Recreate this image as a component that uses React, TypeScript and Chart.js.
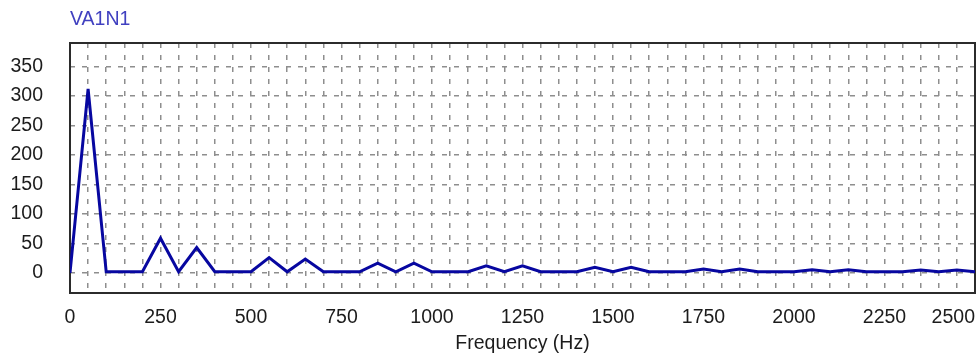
import { useEffect, useRef } from 'react';
import { Chart, registerables } from 'chart.js';

Chart.register(...registerables);

// Harmonic spectrum of signal VA1N1
const TITLE = 'VA1N1';
const X_TITLE = 'Frequency (Hz)';

// Sample frequencies (Hz)
const FREQS = [
  0, 50, 100, 150, 200, 250, 300, 350, 400, 450, 500,
  550, 600, 650, 700, 750, 800, 850, 900, 950, 1000,
  1050, 1100, 1150, 1200, 1250, 1300, 1350, 1400, 1450, 1500,
  1550, 1600, 1650, 1700, 1750, 1800, 1850, 1900, 1950, 2000,
  2050, 2100, 2150, 2200, 2250, 2300, 2350, 2400, 2450, 2500,
];

// Amplitude at each frequency
const AMPLITUDES = [
  0, 312, 2, 2, 2, 59, 2, 43, 2, 2, 2,
  26, 2, 23.5, 2, 2, 2, 16.5, 2, 16.5, 2,
  2, 2, 12, 2, 12, 2, 2, 2, 9.5, 2,
  9.5, 2, 2, 2, 6.5, 2, 6.5, 2, 2, 2,
  5.5, 2, 5.5, 2, 2, 2, 5, 2, 5, 2,
];

const X_LABELS = [0, 250, 500, 750, 1000, 1250, 1500, 1750, 2000, 2250, 2500];
const Y_LABELS = [0, 50, 100, 150, 200, 250, 300, 350];
const Y_MIN = -34;
const Y_MAX = 390;

const FONT_FAMILY = "'Liberation Sans', Arial, sans-serif";
const FONT_SIZE = 19.5;
const TEXT_COLOR = '#1c1c1c';
const TITLE_COLOR = '#4040c0';
const LINE_COLOR = '#0707a0';
const GRID_COLOR = '#8e8e8e';
const FRAME_COLOR = '#2b2b2b';

// Solid frame around the plotting area
const framePlugin = {
  id: 'plotFrame',
  beforeDatasetsDraw(chart: any) {
    const { ctx, chartArea } = chart;
    const { left, top, right, bottom } = chartArea;
    ctx.save();
    ctx.strokeStyle = FRAME_COLOR;
    ctx.lineWidth = 2;
    ctx.strokeRect(left, top, right - left, bottom - top);
    ctx.restore();
  },
};

// Chart heading, aligned with the left edge of the plotting area
const headingPlugin = {
  id: 'heading',
  afterDraw(chart: any) {
    const { ctx, chartArea } = chart;
    ctx.save();
    ctx.fillStyle = TITLE_COLOR;
    ctx.font = `${FONT_SIZE}px ${FONT_FAMILY}`;
    ctx.textAlign = 'left';
    ctx.textBaseline = 'alphabetic';
    ctx.fillText(TITLE, chartArea.left, 25);
    ctx.restore();
  },
};

export default function App() {
  const canvasRef = useRef<HTMLCanvasElement | null>(null);

  useEffect(() => {
    document.body.style.margin = '0';
    const canvas = canvasRef.current;
    if (!canvas) return;

    const chart = new Chart(canvas, {
      type: 'line',
      data: {
        datasets: [
          {
            label: TITLE,
            data: FREQS.map((f, i) => ({ x: f, y: AMPLITUDES[i] })),
            borderColor: LINE_COLOR,
            backgroundColor: LINE_COLOR,
            borderWidth: 3,
            pointRadius: 0,
            tension: 0,
            fill: false,
          },
        ],
      },
      options: {
        responsive: false,
        animation: false,
        events: [],
        layout: { padding: { left: 0, right: 4, top: 43, bottom: 0 } },
        plugins: {
          legend: { display: false },
          tooltip: { enabled: false },
          title: { display: false },
        },
        scales: {
          x: {
            type: 'linear',
            min: 0,
            max: 2500,
            afterBuildTicks: (scale: any) => {
              // leading blank tick keeps the "0" label centred under the axis origin
              scale.ticks = [{ value: FREQS[0] }, ...FREQS.map((v) => ({ value: v }))];
            },
            afterFit: (scale: any) => {
              scale.height = 65;
              scale.paddingLeft = 0;
              scale.paddingRight = 0;
              scale.paddingTop = 0;
              scale.paddingBottom = 0;
            },
            ticks: {
              autoSkip: false,
              maxRotation: 0,
              minRotation: 0,
              align: 'inner',
              padding: 12.6,
              color: TEXT_COLOR,
              font: { family: FONT_FAMILY, size: FONT_SIZE, lineHeight: 1.2 },
              callback: (value: any, index: number) =>
                index === 0 ? '' : X_LABELS.includes(Number(value)) ? String(value) : '',
            },
            grid: {
              drawTicks: false,
              color: GRID_COLOR,
              lineWidth: 1.5,
            },
            border: { display: false, dash: [5, 7] },
            title: {
              display: true,
              text: X_TITLE,
              color: TEXT_COLOR,
              font: { family: FONT_FAMILY, size: FONT_SIZE, lineHeight: 1.2 },
              padding: { top: 0, bottom: 3 },
            },
          },
          y: {
            type: 'linear',
            min: Y_MIN,
            max: Y_MAX,
            afterBuildTicks: (scale: any) => {
              scale.ticks = Y_LABELS.map((v) => ({ value: v }));
            },
            afterFit: (scale: any) => {
              scale.width = 70;
              scale.paddingLeft = 0;
              scale.paddingRight = 0;
              scale.paddingTop = 0;
              scale.paddingBottom = 0;
            },
            ticks: {
              padding: 27,
              color: TEXT_COLOR,
              font: { family: FONT_FAMILY, size: FONT_SIZE, lineHeight: 1.2 },
              callback: (value: any) => String(value),
            },
            grid: {
              drawTicks: false,
              color: GRID_COLOR,
              lineWidth: 1.5,
            },
            border: { display: false, dash: [5, 7] },
          },
        },
      },
      plugins: [framePlugin, headingPlugin],
    } as any);

    return () => chart.destroy();
  }, []);

  return (
    <div style={{ width: 979, height: 358, background: '#ffffff' }}>
      <canvas ref={canvasRef} width={979} height={358} style={{ display: 'block' }} />
    </div>
  );
}
